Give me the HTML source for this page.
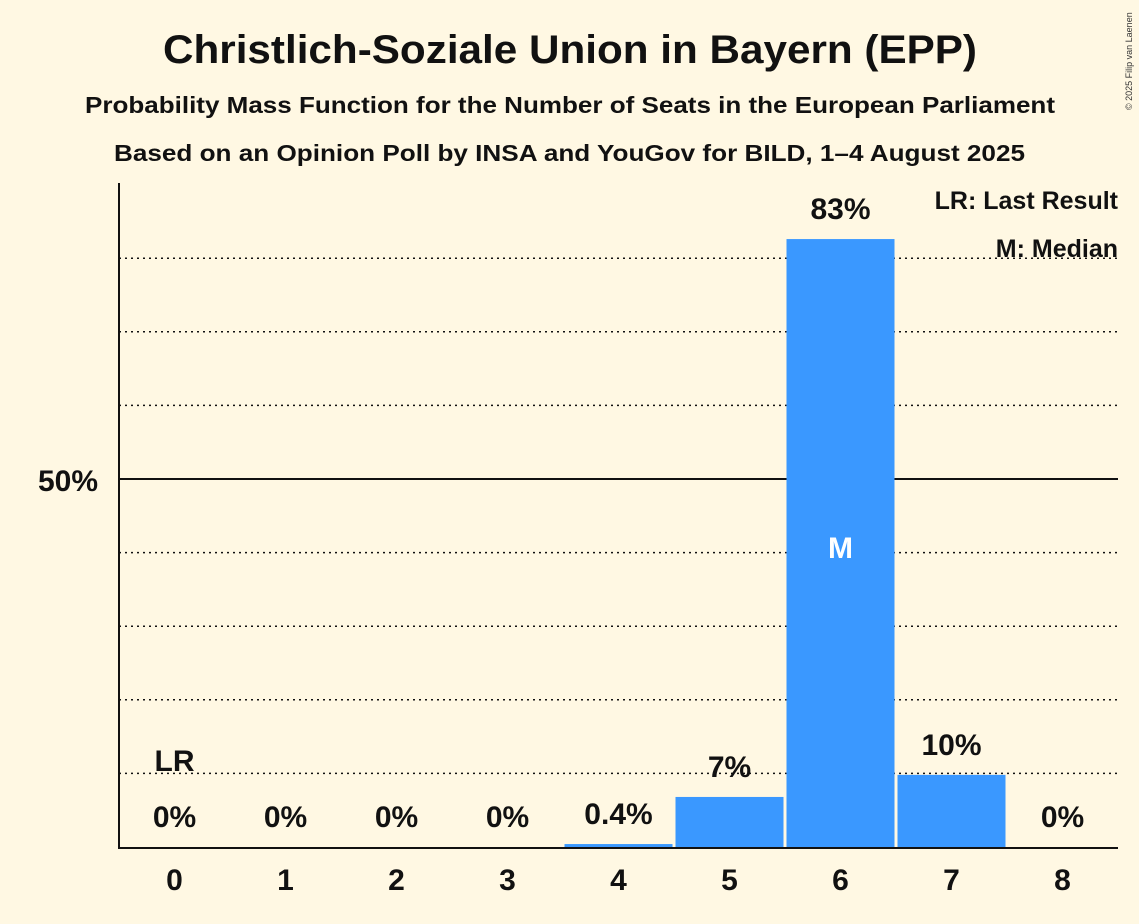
<!DOCTYPE html>
<html><head><meta charset="utf-8"><style>
body{margin:0;background:#fff8e3;}
svg{display:block;font-family:"Liberation Sans",sans-serif;font-weight:bold;}
</style></head><body>
<svg id="chart" width="1139" height="924">
<rect width="1139" height="924" fill="#fff8e3"/>
<text x="163" y="63" font-size="40" textLength="814" lengthAdjust="spacingAndGlyphs" fill="#111">Christlich-Soziale Union in Bayern (EPP)</text>
<text x="85" y="113" font-size="23" textLength="970" lengthAdjust="spacingAndGlyphs" fill="#111">Probability Mass Function for the Number of Seats in the European Parliament</text>
<text x="114" y="161" font-size="23" textLength="911" lengthAdjust="spacingAndGlyphs" fill="#111">Based on an Opinion Poll by INSA and YouGov for BILD, 1–4 August 2025</text>
<text x="1132" y="110" font-size="9" font-weight="normal" fill="#333" transform="rotate(-90 1132 110)" text-anchor="start">© 2025 Filip van Laenen</text>
<g id="grid"></g>
<g id="bars"></g>
<g id="labels"></g>
<line x1="119" y1="183" x2="119" y2="848" stroke="#111" stroke-width="2"/>
<line x1="118" y1="848" x2="1118" y2="848" stroke="#111" stroke-width="2"/>
<text x="98" y="491" font-size="30" text-anchor="end" fill="#111">50%</text>
<text x="1118" y="209" font-size="25" text-anchor="end" fill="#111">LR: Last Result</text>
<text x="1118" y="257" font-size="25" text-anchor="end" fill="#111">M: Median</text>
</svg>
<script>
const seats=[0,1,2,3,4,5,6,7,8];
const probs=[0,0,0,0,0.4,6.8,82.6,9.8,0];
const valueLabels=["0%","0%","0%","0%","0.4%","7%","83%","10%","0%"];
const gridTicks=[10,20,30,40,50,60,70,80];
const medianSeat=6, lastResultSeat=0;
const ns="http://www.w3.org/2000/svg";
const x0=119,x1=1118,yBase=847,pxPer=7.36;
const band=(x1-x0)/seats.length;
const xc=i=>x0+band*(i+0.5);
const y=v=>yBase-v*pxPer;
function mk(t,a,p){const e=document.createElementNS(ns,t);for(const k in a)e.setAttribute(k,a[k]);p.appendChild(e);return e;}
const g=document.getElementById('grid');
gridTicks.forEach(t=>{
 const l=mk('line',{x1:x0,x2:x1,y1:y(t),y2:y(t),stroke:'#111','stroke-width':t===50?2:1.5,'stroke-dasharray':t===50?'':'2,4'},g);
 
 
});
const b=document.getElementById('bars'),lb=document.getElementById('labels');
seats.forEach((s,i)=>{
 const v=probs[i];
 if(v>0){
  const r=mk('rect',{x:xc(i)-54,y:y(v),width:108,height:yBase-y(v),fill:'#3a98ff'},b);
  
  
 }
 const t=mk('text',{x:xc(i),y:y(v)-20,'font-size':30,'text-anchor':'middle',fill:'#111'},lb);
 t.textContent=valueLabels[i];
 
 
 const xt=mk('text',{x:xc(i),y:890,'font-size':30,'text-anchor':'middle',fill:'#111'},lb);
 xt.textContent=s;
 
 
 if(s===lastResultSeat){
  const lr=mk('text',{x:xc(i),y:y(v)-76,'font-size':30,'text-anchor':'middle',fill:'#111'},lb);
  lr.textContent='LR';
  
  
 }
 if(s===medianSeat){
  const m=mk('text',{x:xc(i),y:558,'font-size':30,'text-anchor':'middle',fill:'#fff'},lb);
  m.textContent='M';
  
  
 }
});
</script>
</body></html>
